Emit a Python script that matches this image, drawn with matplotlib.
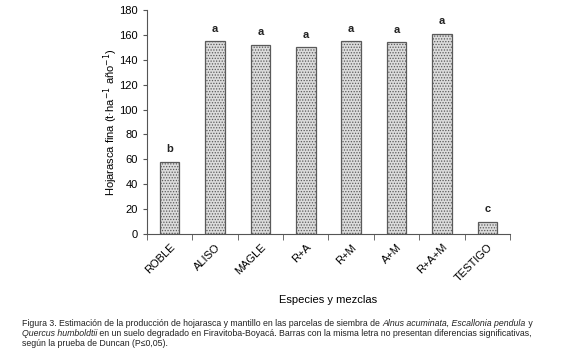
import matplotlib
matplotlib.use("Agg")
import matplotlib.pyplot as plt
import matplotlib.transforms as mtransforms
import numpy as np

plt.rcParams['font.family'] = ['Liberation Sans', 'DejaVu Sans']
plt.rcParams['hatch.color'] = '#b5b5b5'
plt.rcParams['hatch.linewidth'] = 0.6

categories = ["ROBLE", "ALISO", "MAGLE", "R+A", "R+M", "A+M", "R+A+M", "TESTIGO"]
values = [58, 155, 152, 150, 155, 154, 161, 10]
letters = ["b", "a", "a", "a", "a", "a", "a", "c"]
yticks = [0, 20, 40, 60, 80, 100, 120, 140, 160, 180]

fig = plt.figure(figsize=(5.8, 3.63), dpi=100)
ax = fig.add_axes([0.2534, 0.3554, 0.8793 - 0.2534, 0.9725 - 0.3554])

x = np.arange(len(categories))
ax.bar(x, values, width=0.43, color='#dcdcdc', edgecolor='#5a5a5a', linewidth=0.9,
       hatch='......', zorder=2)
for xi, v, l in zip(x, values, letters):
    ax.text(xi, v + 10, l, ha='center', va='center', fontsize=8, fontweight='bold', color='#222222')

ax.set_xlim(-0.5, len(categories) - 0.5)
ax.set_ylim(0, 180)
ax.set_yticks(yticks)
ax.set_xticks(x)
ax.set_xticklabels(categories, rotation=45, ha='right', rotation_mode='anchor', fontsize=8)
offset = mtransforms.ScaledTranslation(-0.08, -0.04, fig.dpi_scale_trans)
for lab in ax.get_xticklabels():
    lab.set_transform(lab.get_transform() + offset)
ax.set_xticks(np.arange(len(categories) + 1) - 0.5, minor=True)
ax.tick_params(axis='x', which='major', length=0, pad=6)
ax.tick_params(axis='x', which='minor', length=4, color='#555555')
ax.tick_params(axis='y', labelsize=8, length=3, color='#555555')
for s in ['top', 'right']:
    ax.spines[s].set_visible(False)
for s in ['left', 'bottom']:
    ax.spines[s].set_color('#555555')
ax.set_ylabel("Hojarasca fina (t·ha$^{-1}$ año$^{-1}$)", fontsize=8)
ax.yaxis.set_label_coords(-(147 - 120) / 363, 0.5)
ax.set_xlabel("Especies y mezclas", fontsize=8)
ax.xaxis.set_label_coords(0.5, -(295 - 234) / 224)

# Caption with italic segments
lines = [
    [("Figura 3. Estimación de la producción de hojarasca y mantillo en las parcelas de siembra de ", 'normal'),
     ("Alnus acuminata, Escallonia pendula", 'italic'), (" y", 'normal')],
    [("Quercus humboldtii", 'italic'),
     (" en un suelo degradado en Firavitoba-Boyacá. Barras con la misma letra no presentan diferencias significativas,", 'normal')],
    [("según la prueba de Duncan (P≤0,05).", 'normal')],
]
fig.canvas.draw()
renderer = fig.canvas.get_renderer()
y0 = 1 - 323 / 363
dy = 10 / 363
for i, segs in enumerate(lines):
    xpos = 22 / 580
    for txt, style in segs:
        t = fig.text(xpos, y0 - i * dy, txt, fontsize=6.3, style=style, ha='left', va='center',
                     color='#222222')
        bb = t.get_window_extent(renderer=renderer)
        xpos += bb.width / fig.bbox.width

fig.savefig("out.png", dpi=100)
